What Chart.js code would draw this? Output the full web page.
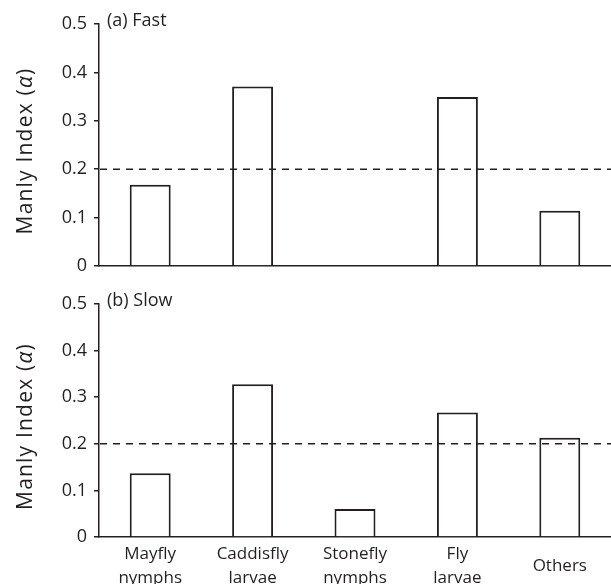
<!DOCTYPE html>
<html>
<head>
<meta charset="utf-8">
<script src="https://cdn.jsdelivr.net/npm/chart.js"></script>
<style>
  body { margin: 0; background: #fff; }
  #wrap { position: relative; width: 611px; height: 584px; overflow: hidden; background: #fff; }
  #fastBox { position: absolute; left: 0; top: 0; width: 611px; height: 280px; }
  #slowBox { position: absolute; left: 0; top: 280px; width: 611px; height: 304px; }
</style>
</head>
<body>
<div id="wrap">
  <div id="fastBox"><canvas id="fastChart" width="611" height="280"></canvas></div>
  <div id="slowBox"><canvas id="slowChart" width="611" height="304"></canvas></div>
</div>
<script>
  // Data
  const categories = [['Mayfly', 'nymphs'], ['Caddisfly', 'larvae'], ['Stonefly', 'nymphs'], ['Fly', 'larvae'], 'Others'];
  const fastValues = [0.168, 0.371, 0, 0.349, 0.114];
  const slowValues = [0.137, 0.328, 0.060, 0.267, 0.213];
  const yTicks = [0, 0.1, 0.2, 0.3, 0.4, 0.5];
  const threshold = 0.2;

  const ink = '#231f20';
  const family = '"Open Sans", "DejaVu Sans", sans-serif';

  // Dashed reference line, panel label and y title
  const overlay = {
    id: 'overlay',
    afterDatasetsDraw(chart) {
      const { ctx, chartArea, scales } = chart;
      const y = scales.y.getPixelForValue(threshold);
      ctx.save();
      ctx.strokeStyle = ink;
      ctx.lineWidth = 1.5;
      ctx.setLineDash([7, 6]);
      ctx.beginPath();
      ctx.moveTo(chartArea.left + 1, y);
      ctx.lineTo(chartArea.right, y);
      ctx.stroke();
      ctx.restore();
    },
    afterDraw(chart, args, opts) {
      const { ctx, chartArea } = chart;
      ctx.save();
      ctx.fillStyle = ink;
      ctx.textBaseline = 'middle';
      ctx.font = '18px ' + family;
      ctx.fillText(opts.label, chartArea.left + 8, chartArea.top - 3);

      // rotated y title with italic alpha
      ctx.letterSpacing = '1.2px';
      const parts = [['Manly Index (', 'normal'], ['α', 'italic'], [')', 'normal']];
      let total = 0;
      parts.forEach(p => { ctx.font = p[1] + ' 21px ' + family; total += ctx.measureText(p[0]).width; });
      ctx.translate(26, (chartArea.top + chartArea.bottom) / 2 + 6);
      ctx.rotate(-Math.PI / 2);
      let x = -total / 2;
      ctx.textAlign = 'left';
      parts.forEach(p => {
        ctx.font = p[1] + ' 21px ' + family;
        ctx.fillText(p[0], x, 0);
        x += ctx.measureText(p[0]).width;
      });
      ctx.restore();
    }
  };

  function makeChart(id, values, label, showLabels) {
    const ctx = document.getElementById(id).getContext('2d');
    return new Chart(ctx, {
      type: 'bar',
      data: {
        labels: categories,
        datasets: [{
          data: values,
          backgroundColor: '#ffffff',
          borderColor: ink,
          borderWidth: 2,
          barPercentage: 0.4,
          categoryPercentage: 1
        }]
      },
      options: {
        responsive: false,
        animation: false,
        layout: { padding: { top: 24, bottom: showLabels ? 0 : 14, left: 0, right: 0 } },
        plugins: {
          legend: { display: false },
          tooltip: { enabled: false },
          overlay: { label: label }
        },
        scales: {
          x: {
            grid: { display: false },
            border: { display: true, color: ink, width: 1.5 },
            ticks: {
              display: showLabels,
              color: ink,
              font: { family: family, size: 17, lineHeight: 1.4 },
              maxRotation: 0,
              autoSkip: false,
              crossAlign: 'center',
              padding: 9
            },
            afterFit(scale) { scale.height = showLabels ? 47 : 0; }
          },
          y: {
            min: 0,
            max: 0.5,
            afterBuildTicks(scale) { scale.ticks = yTicks.map(v => ({ value: v })); },
            ticks: {
              color: ink,
              font: { family: family, size: 18 },
              padding: 7,
              callback: v => (v === 0 ? '0' : v.toFixed(1))
            },
            grid: { display: true, drawOnChartArea: false, drawTicks: true, tickLength: 5, color: ink, lineWidth: 1.5 },
            border: { display: true, color: ink, width: 1.5 },
            afterFit(scale) {
              scale.width = 99;
              scale.paddingTop = 0;
              scale.paddingBottom = 0;
            }
          }
        }
      },
      plugins: [overlay]
    });
  }

  makeChart('fastChart', fastValues, '(a) Fast', false);
  makeChart('slowChart', slowValues, '(b) Slow', true);
</script>
</body>
</html>
